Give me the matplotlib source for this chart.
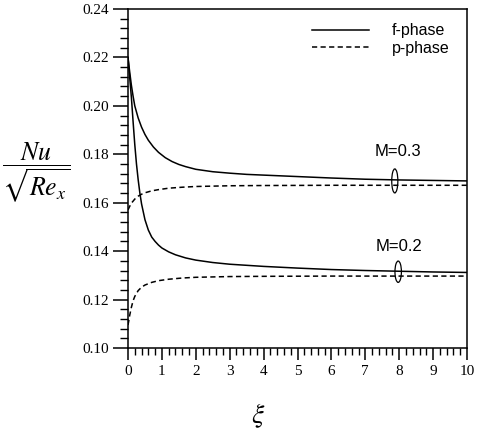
import matplotlib
matplotlib.use("Agg")
import matplotlib.pyplot as plt
from matplotlib.patches import Ellipse

# ---- data ----
xi_f3 = [0.0, 0.05, 0.10, 0.15, 0.20, 0.30, 0.40, 0.50, 0.60, 0.75, 0.90, 1.10, 1.30, 1.50, 1.70,
         2.00, 2.50, 3.00, 3.50, 4.00, 5.00, 6.00, 7.00, 8.00, 9.00, 10.0]
nu_f3 = [0.2200, 0.2140, 0.2085, 0.2040, 0.2000, 0.1950, 0.1912, 0.1882, 0.1858, 0.1830, 0.1808,
         0.1786, 0.1770, 0.1758, 0.1749, 0.1738, 0.1728, 0.1722, 0.1717, 0.1714, 0.1708, 0.1702,
         0.1697, 0.1694, 0.1692, 0.1690]

xi_p3 = [0.0, 0.05, 0.10, 0.20, 0.30, 0.40, 0.50, 0.70, 0.90, 1.20, 1.60, 2.00, 3.00, 4.00, 6.00, 10.0]
nu_p3 = [0.1570, 0.1585, 0.1598, 0.1615, 0.1627, 0.1635, 0.1641, 0.1649, 0.1654, 0.1660, 0.1664,
         0.1667, 0.1670, 0.1671, 0.1672, 0.1672]

xi_f2 = [0.0, 0.03, 0.06, 0.10, 0.15, 0.20, 0.25, 0.30, 0.35, 0.40, 0.50, 0.60, 0.70, 0.80, 0.90,
         1.00, 1.20, 1.40, 1.70, 2.00, 2.50, 3.00, 4.00, 5.00, 6.00, 7.00, 8.00, 9.00, 10.0]
nu_f2 = [0.2200, 0.2150, 0.2100, 0.2035, 0.1935, 0.1840, 0.1760, 0.1695, 0.1640, 0.1595, 0.1530,
         0.1487, 0.1458, 0.1440, 0.1425, 0.1413, 0.1397, 0.1385, 0.1372, 0.1363, 0.1353, 0.1346,
         0.1337, 0.1330, 0.1324, 0.1320, 0.1317, 0.1314, 0.1312]

xi_p2 = [0.0, 0.02, 0.05, 0.10, 0.15, 0.20, 0.30, 0.40, 0.50, 0.70, 0.90, 1.20, 1.60, 2.00, 3.00,
         4.00, 6.00, 10.0]
nu_p2 = [0.1095, 0.1110, 0.1135, 0.1168, 0.1195, 0.1213, 0.1237, 0.1251, 0.1260, 0.1271, 0.1278,
         0.1284, 0.1289, 0.1292, 0.1295, 0.1296, 0.1297, 0.1297]

labels = ["f-phase", "p-phase"]
m_labels = ["M=0.3", "M=0.2"]
m_label_pos = [(7.96, 0.1811), (7.99, 0.1418)]
ellipse_pos = [(7.87, 0.1690, 0.18, 0.0099), (7.97, 0.1315, 0.19, 0.0088)]

x_ticks = list(range(0, 11))
y_ticks = [0.10, 0.12, 0.14, 0.16, 0.18, 0.20, 0.22, 0.24]

plt.rcParams["mathtext.fontset"] = "stix"

fig = plt.figure(figsize=(4.81, 4.30), dpi=100)
ax = fig.add_axes([128/481, 1-348/430, (467-128)/481, (348-9)/430])

lw = 1.1
ax.plot(xi_f3, nu_f3, color="black", lw=lw, label=labels[0])
ax.plot(xi_p3, nu_p3, color="black", lw=lw, dashes=(3.4, 2.2), label=labels[1])
ax.plot(xi_f2, nu_f2, color="black", lw=lw)
ax.plot(xi_p2, nu_p2, color="black", lw=lw, dashes=(3.4, 2.2))

for (ex, ey, ew, eh) in ellipse_pos:
    ax.add_patch(Ellipse((ex, ey), ew, eh, facecolor="none", edgecolor="black", lw=0.9))
for txt, (tx, ty) in zip(m_labels, m_label_pos):
    ax.text(tx, ty, txt, ha="center", va="center", fontsize=12, family="Liberation Sans")

ax.set_xlim(0, 10)
ax.set_ylim(0.10, 0.24)
ax.set_xticks(x_ticks)
ax.set_yticks(y_ticks)
ax.set_xticklabels([str(t) for t in x_ticks])
ax.set_yticklabels([f"{t:.2f}" for t in y_ticks])
ax.set_xticks([i * 0.2 for i in range(51)], minor=True)
ax.set_yticks([0.10 + i * 0.004 for i in range(36)], minor=True)

for lab in ax.get_xticklabels() + ax.get_yticklabels():
    lab.set_fontfamily("Liberation Serif")
    lab.set_fontsize(11)

ax.tick_params(axis="y", which="major", direction="out", length=10.5, width=1.1, pad=3)
ax.tick_params(axis="y", which="minor", direction="out", length=5.5, width=1.0)
ax.tick_params(axis="x", which="major", direction="out", length=8.5, width=1.1, pad=4)
ax.tick_params(axis="x", which="minor", direction="out", length=4.8, width=1.0)
for s in ax.spines.values():
    s.set_linewidth(1.1)

leg = ax.legend(loc="upper right", bbox_to_anchor=(0.99, 1.0), frameon=False,
                handlelength=3.6, handletextpad=1.4, labelspacing=0.15,
                prop={"family": "Liberation Sans", "size": 11.5})

fig.text(36/481, 1-173/430, r"$\dfrac{Nu}{\sqrt{Re_x}}$", ha="center", va="center", fontsize=18.5)
fig.text(258/481, 1-416/430, r"$\xi$", ha="center", va="center", fontsize=20)

fig.savefig("out.png", dpi=100)
